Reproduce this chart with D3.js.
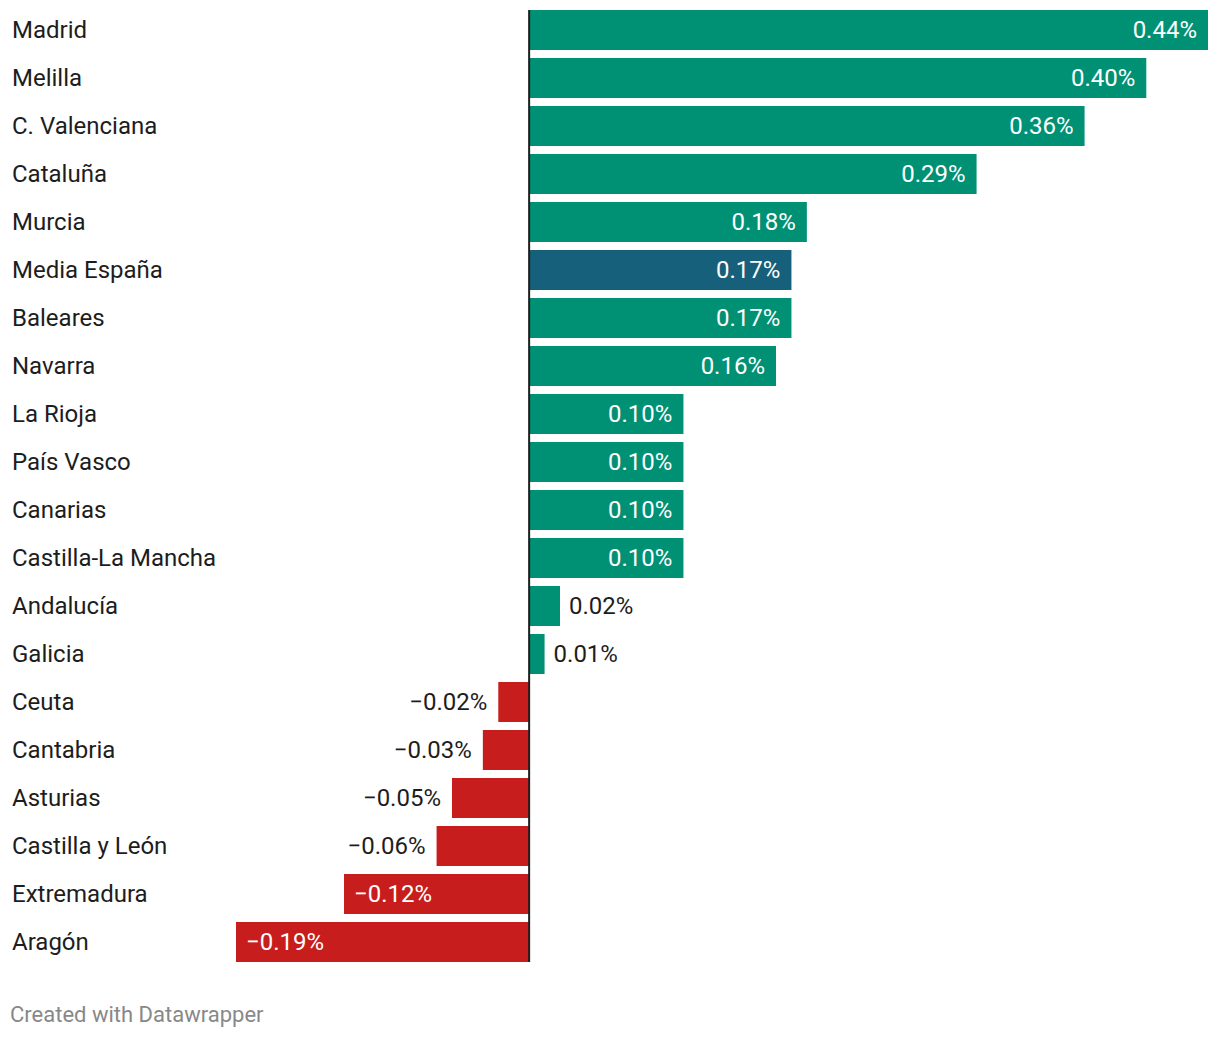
<!DOCTYPE html>
<html><head><meta charset="utf-8">
<script src="https://cdn.jsdelivr.net/npm/d3@7"></script>
<style>
body{margin:0;background:#fff;font-family:Roboto,"Noto Sans",sans-serif;}
</style></head>
<body><svg id="c" width="1220" height="1038"></svg>
<script>
const categories = ["Madrid","Melilla","C. Valenciana","Cataluña","Murcia","Media España","Baleares","Navarra","La Rioja","País Vasco","Canarias","Castilla-La Mancha","Andalucía","Galicia","Ceuta","Cantabria","Asturias","Castilla y León","Extremadura","Aragón"];
const values = [0.44,0.40,0.36,0.29,0.18,0.17,0.17,0.16,0.10,0.10,0.10,0.10,0.02,0.01,-0.02,-0.03,-0.05,-0.06,-0.12,-0.19];
const highlight = ["Media España"];
const footer = "Created with Datawrapper";

const FS = 24;
const svg = d3.select("#c");
const x = d3.scaleLinear().domain([-0.19,0.44]).range([236,1208]);
const yb = d3.scaleBand().domain(categories).range([10, 10+48*categories.length-8]).paddingInner(8/48);

const data = categories.map((c,i)=>({c,v:values[i]}));
const color = d => highlight.includes(d.c) ? "#17607b" : (d.v>=0 ? "#009175" : "#c71e1d");
const fmt = v => (v<0?"\u2212":"") + Math.abs(v).toFixed(2) + "%";

svg.selectAll("rect.bar").data(data).join("rect")
  .attr("x", d=>Math.min(x(0),x(d.v)))
  .attr("y", d=>yb(d.c))
  .attr("width", d=>Math.abs(x(d.v)-x(0)))
  .attr("height", yb.bandwidth())
  .attr("fill", color);

svg.append("line").attr("x1",x(0)).attr("x2",x(0))
  .attr("y1",yb(categories[0])).attr("y2",yb(categories[categories.length-1])+yb.bandwidth())
  .attr("stroke","#1d1d1d").attr("stroke-width",2);

svg.selectAll("text.cat").data(data).join("text")
  .attr("x",12).attr("y",d=>yb(d.c)+yb.bandwidth()/2)
  .attr("dy","0.35em").attr("font-size",FS).attr("fill","#1d1d1d")
  .text(d=>d.c);

const vl = svg.selectAll("text.val").data(data).join("text")
  .attr("font-size",FS).attr("y",d=>yb(d.c)+yb.bandwidth()/2).attr("dy","0.35em")
  .text(d=>fmt(d.v));
vl.each(function(d){
  const w = this.getComputedTextLength();
  const bw = Math.abs(x(d.v)-x(0));
  const inside = bw > w + 22;
  const t = d3.select(this);
  if(d.v>=0){
    if(inside) t.attr("x",x(d.v)-11).attr("text-anchor","end").attr("fill","#fff");
    else t.attr("x",x(d.v)+9).attr("text-anchor","start").attr("fill","#1d1d1d");
  } else {
    if(inside) t.attr("x",x(d.v)+10).attr("text-anchor","start").attr("fill","#fff");
    else t.attr("x",x(d.v)-11).attr("text-anchor","end").attr("fill","#1d1d1d");
  }
});

svg.append("text").attr("x",10).attr("y",1022).attr("font-size",22).attr("fill","#888").text(footer);
</script></body></html>
